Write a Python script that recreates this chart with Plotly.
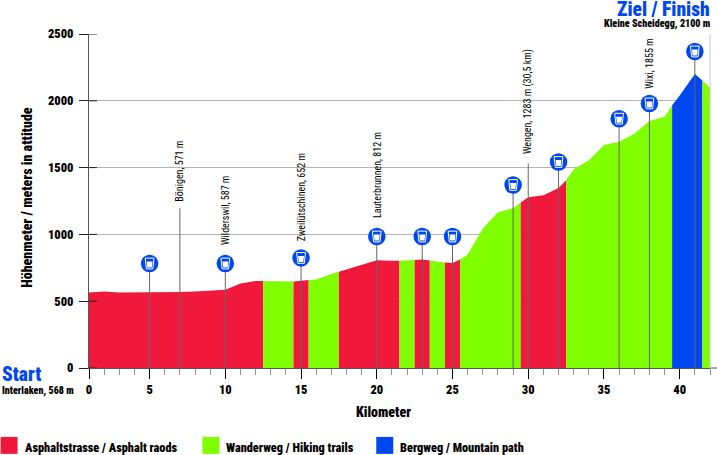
import plotly.graph_objects as go

# elevation profile (the first point sits on the tick labelled 0)
km = [1, 2, 3, 4, 5, 6, 7, 8, 9, 10, 11, 12, 12.5, 13, 14, 14.5, 15, 15.5, 16, 17, 17.5, 18, 19, 20,
      21, 21.5, 22, 22.5, 23, 23.5, 24, 24.5, 25, 25.5, 26, 27, 28, 29, 29.5, 30, 31, 32, 32.5, 33,
      34, 35, 36, 37, 38, 39, 39.5, 40, 41, 41.5, 42]
elev = [566, 573, 566, 566, 566, 567, 568, 573, 580, 585, 633, 652, 652, 650, 645, 648, 652, 658, 663, 703, 720, 737, 770, 807,
        802, 802, 807, 809, 812, 804, 795, 790, 785, 812, 850, 1044, 1166, 1196, 1238, 1278, 1293, 1348, 1405, 1487,
        1555, 1669, 1694, 1754, 1848, 1880, 1966, 2040, 2200, 2152, 2098]

# surface sections: where each one ends and what it is
seg_start = [1, 12.5, 14.5, 15.5, 17.5, 21.5, 22.5, 23.5, 24.5, 25.5, 29.5, 32.5, 39.5, 41.5]
seg_end = [12.5, 14.5, 15.5, 17.5, 21.5, 22.5, 23.5, 24.5, 25.5, 29.5, 32.5, 39.5, 41.5, 42]
seg_type = ["a", "w", "a", "w", "a", "w", "a", "w", "a", "w", "a", "w", "b", "w"]

RED = "#f0193c"
GREEN = "#80ff00"
BLUE = "#0047f0"
colors = {"a": RED, "w": GREEN, "b": BLUE}

# drinks stations: km and height of the icon
water_km = [5, 10, 15, 20, 23, 25, 29, 32, 36, 38, 41]
water_y = [782, 782, 824, 984, 984, 984, 1370, 1542, 1866, 1980, 2369]

# places named along the route
place_names = ["Bönigen, 571 m", "Wilderswil, 587 m", "Zweilütschinen, 652 m",
               "Lauterbrunnen, 812 m", "Wengen, 1283 m (30,5 km)", "Wixi, 1855 m"]
place_km = [7, 10, 15, 20, 30, 38]
place_label_y = [1233, 904, 934, 1106, 1584, 2078]
line_km = [7, 30]
line_top = [1196, 1532]

x_tick_vals = [1, 5, 10, 15, 20, 25, 30, 35, 40]
x_tick_text = ["0", "5", "10", "15", "20", "25", "30", "35", "40"]
x_minor = [k for k in range(2, 43) if k % 5 != 0]
y_ticks = [0, 500, 1000, 1500, 2000, 2500]

W, H = 717, 455
L, R, T, B = 88.5, 7, 33.5, 87
FONT = "Roboto Condensed, Open Sans Condensed, DejaVu Sans Condensed, Liberation Sans"


def px(x):
    return (x - L) / (W - L - R)


def py(y):
    return 1 - (y - T) / (H - T - B)


fig = go.Figure()

for s, e, t in zip(seg_start, seg_end, seg_type):
    xs = [k for k in km if s <= k <= e]
    ys = [v for k, v in zip(km, elev) if s <= k <= e]
    fig.add_trace(go.Scatter(x=xs, y=ys, mode="lines", fill="tozeroy", fillcolor=colors[t],
                             line=dict(width=0), showlegend=False, hoverinfo="skip"))

for k, top in list(zip(water_km, water_y)) + list(zip(line_km, line_top)):
    fig.add_trace(go.Scatter(x=[k, k], y=[0, top], mode="lines", line=dict(color="#666666", width=1),
                             showlegend=False, hoverinfo="skip"))

fig.add_trace(go.Scatter(x=water_km, y=water_y, mode="markers", showlegend=False, hoverinfo="skip",
                         marker=dict(size=17.5, color=BLUE, line=dict(width=0))))

shapes = []
# cup on every icon
for k, v in zip(water_km, water_y):
    shapes.append(dict(type="path", xref="x", yref="y", xsizemode="pixel", ysizemode="pixel",
                       xanchor=k, yanchor=v, layer="above",
                       path="M -4.4 5.4 L 4.4 5.4 L 3.2 -5.4 L -3.2 -5.4 Z",
                       fillcolor="rgba(0,0,0,0)", line=dict(color="white", width=1)))
    shapes.append(dict(type="path", xref="x", yref="y", xsizemode="pixel", ysizemode="pixel",
                       xanchor=k, yanchor=v, layer="above",
                       path="M -2.9 2 L 2.9 2 L 2.3 -4 L -2.3 -4 Z",
                       fillcolor="white", line=dict(width=0)))

# y ticks also reach into the plot
for v in y_ticks:
    shapes.append(dict(type="line", xref="x", yref="y", xsizemode="pixel", xanchor=1, x0=0, x1=8,
                       y0=v, y1=v, layer="above", line=dict(color="#222222", width=1)))

# baseline runs on past the last gridline
shapes.append(dict(type="line", xref="paper", yref="paper", x0=1, x1=px(717), y0=0, y1=0,
                   line=dict(color="#555555", width=1)))

annotations = []
for name, k, v in zip(place_names, place_km, place_label_y):
    annotations.append(dict(text=name, x=k, y=v, xref="x", yref="y", textangle=-90, showarrow=False,
                            xanchor="center", yanchor="bottom",
                            font=dict(family=FONT, size=10, color="black")))


def text_at(txt, x, y, size, color="black", anchor="left", angle=0):
    annotations.append(dict(text=txt, x=px(x), y=py(y), xref="paper", yref="paper", showarrow=False,
                            xanchor=anchor, yanchor="middle", textangle=angle,
                            font=dict(family=FONT, size=size, color=color, weight=900)))


text_at("Start", -1, 375, 19.5, BLUE)
text_at("Interlaken, 568 m", -1, 391, 10.1)
text_at("Ziel / Finish", 712, 9, 19.5, BLUE, "right")
text_at("Kleine Scheidegg, 2100 m", 712, 23.5, 10.1, "black", "right")
text_at("Höhenmeter / meters in attitude", 27, 197, 14, "black", "center", -90)
text_at("Kilometer", 383, 412, 14, "black", "center")

legend_names = ["Asphaltstrasse / Asphalt raods", "Wanderweg / Hiking trails", "Bergweg / Mountain path"]
legend_colors = [RED, GREEN, BLUE]
legend_x = [0, 202, 376]
for name, c, x0 in zip(legend_names, legend_colors, legend_x):
    shapes.append(dict(type="rect", xref="paper", yref="paper", x0=px(x0), x1=px(x0 + 17),
                       y0=py(454), y1=py(437), fillcolor=c, line=dict(width=0)))
    text_at(name, x0 + 22, 448, 12.3)

fig.update_layout(
    width=W, height=H,
    margin=dict(l=L, r=R, t=T, b=B, pad=0),
    paper_bgcolor="white", plot_bgcolor="white",
    showlegend=False,
    shapes=shapes, annotations=annotations,
    font=dict(family=FONT, color="black"),
    xaxis=dict(range=[1, 42], tickmode="array", tickvals=x_tick_vals, ticktext=x_tick_text,
               ticks="outside", ticklen=10, tickcolor="black", showgrid=False, zeroline=False,
               showline=True, linecolor="#555555",
               tickfont=dict(family=FONT, size=12.5, weight=900),
               minor=dict(tickmode="array", tickvals=x_minor, ticks="outside", ticklen=6, tickcolor="#999999", showgrid=False)),
    yaxis=dict(range=[0, 2500], tickmode="array", tickvals=y_ticks, ticks="outside", ticklen=9,
               tickcolor="#222222", showgrid=True, gridcolor="#b5b5b5", gridwidth=1, zeroline=False,
               showline=True, linecolor="#555555", layer="above traces", ticklabelstandoff=3,
               tickfont=dict(family=FONT, size=12.5, weight=900)),
)
fig.add_shape(type="line", xref="paper", yref="paper", x0=1, x1=1, y0=0, y1=1, line=dict(color="#c8c8c8", width=1))

# page margin would shift the fixed-size plot
fig.write_html("out.html", config=dict(displayModeBar=False), post_script="document.body.style.margin='0';")
